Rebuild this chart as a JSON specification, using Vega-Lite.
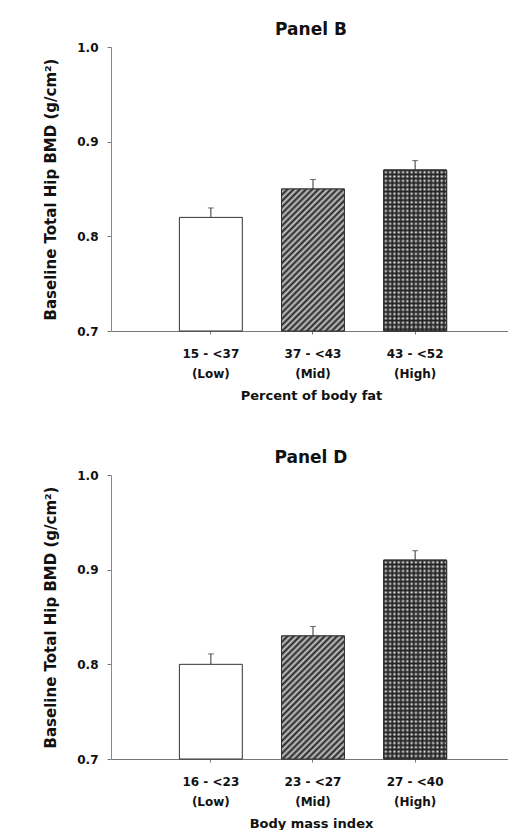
{
  "$schema": "https://vega.github.io/schema/vega-lite/v6.json",
  "background": "white",
  "padding": {"left": 43, "top": 21, "right": 0, "bottom": 0},
  "spacing": 47,
  "config": {
    "font": "DejaVu Sans",
    "view": {"stroke": null},
    "axis": {
      "labelFont": "DejaVu Sans", "labelFontWeight": "bold", "labelFontSize": 12, "labelColor": "#111",
      "titleFont": "DejaVu Sans", "titleFontWeight": "bold", "titleFontSize": 13, "titleColor": "#111",
      "domainColor": "#888", "tickColor": "#777", "grid": false
    },
    "title": {"font": "DejaVu Sans", "fontSize": 17, "fontWeight": "bold", "color": "#111", "offset": 2}
  },
  "datasets": {
    "fat": [
      {"group": "15 - <37\n(Low)", "level": "Low", "bmd": 0.82, "upper": 0.83},
      {"group": "37 - <43\n(Mid)", "level": "Mid", "bmd": 0.85, "upper": 0.86},
      {"group": "43 - <52\n(High)", "level": "High", "bmd": 0.87, "upper": 0.88}
    ],
    "bmi": [
      {"group": "16 - <23\n(Low)", "level": "Low", "bmd": 0.80, "upper": 0.811},
      {"group": "23 - <27\n(Mid)", "level": "Mid", "bmd": 0.83, "upper": 0.84},
      {"group": "27 - <40\n(High)", "level": "High", "bmd": 0.91, "upper": 0.92}
    ]
  },
  "vconcat": [
    {
      "title": "Panel B",
      "width": 400, "height": 284,
      "data": {"name": "fat"},
      "encoding": {
        "x": {"field": "group", "type": "nominal", "sort": null,
          "scale": {"domain": ["15 - <37\n(Low)", "37 - <43\n(Mid)", "43 - <52\n(High)"], "paddingInner": 0.384, "paddingOuter": 0.65, "align": 0.515},
          "axis": {"title": "Percent of body fat", "labelAngle": 0, "labelExpr": "split(datum.label, '\\n')",
            "labelLineHeight": 20, "labelPadding": 14, "tickSize": 3, "titlePadding": 10, "domainColor": "#777"}}
      },
      "layer": [
        {"mark": {"type": "bar", "stroke": "#333", "strokeWidth": 1},
          "encoding": {
            "y": {"field": "bmd", "type": "quantitative",
              "scale": {"domain": [0.7, 1.0], "zero": false, "nice": false},
              "axis": {"title": "Baseline Total Hip BMD (g/cm²)", "values": [0.7, 0.8, 0.9, 1.0], "format": ".1f",
                "tickSize": 4, "labelPadding": 9, "titlePadding": 18, "titleFontSize": 15}},
            "y2": {"datum": 0.7},
            "fill": {"field": "level", "type": "nominal",
              "scale": {"domain": ["Low", "Mid", "High"], "range": ["#ffffff", "#6a6a6a", "#4a4a4a"]}, "legend": null}
          }},
        {"transform": [{"filter": "datum.level === 'Mid'"}],
          "mark": {"type": "bar", "stroke": "#333", "strokeWidth": 1, "fill": {"gradient": "linear", "x1": 0, "y1": 0, "x2": 0.808, "y2": 1.825, "stops": [
            {"offset":0,"color":"#222"},{"offset":0.01,"color":"#c8c8c8"},{"offset":0.02,"color":"#222"},{"offset":0.03,"color":"#c8c8c8"},{"offset":0.04,"color":"#222"},{"offset":0.05,"color":"#c8c8c8"},{"offset":0.06,"color":"#222"},{"offset":0.07,"color":"#c8c8c8"},{"offset":0.08,"color":"#222"},{"offset":0.09,"color":"#c8c8c8"},
            {"offset":0.1,"color":"#222"},{"offset":0.11,"color":"#c8c8c8"},{"offset":0.12,"color":"#222"},{"offset":0.13,"color":"#c8c8c8"},{"offset":0.14,"color":"#222"},{"offset":0.15,"color":"#c8c8c8"},{"offset":0.16,"color":"#222"},{"offset":0.17,"color":"#c8c8c8"},{"offset":0.18,"color":"#222"},{"offset":0.19,"color":"#c8c8c8"},
            {"offset":0.2,"color":"#222"},{"offset":0.21,"color":"#c8c8c8"},{"offset":0.22,"color":"#222"},{"offset":0.23,"color":"#c8c8c8"},{"offset":0.24,"color":"#222"},{"offset":0.25,"color":"#c8c8c8"},{"offset":0.26,"color":"#222"},{"offset":0.27,"color":"#c8c8c8"},{"offset":0.28,"color":"#222"},{"offset":0.29,"color":"#c8c8c8"},
            {"offset":0.3,"color":"#222"},{"offset":0.31,"color":"#c8c8c8"},{"offset":0.32,"color":"#222"},{"offset":0.33,"color":"#c8c8c8"},{"offset":0.34,"color":"#222"},{"offset":0.35,"color":"#c8c8c8"},{"offset":0.36,"color":"#222"},{"offset":0.37,"color":"#c8c8c8"},{"offset":0.38,"color":"#222"},{"offset":0.39,"color":"#c8c8c8"},
            {"offset":0.4,"color":"#222"},{"offset":0.41,"color":"#c8c8c8"},{"offset":0.42,"color":"#222"},{"offset":0.43,"color":"#c8c8c8"},{"offset":0.44,"color":"#222"},{"offset":0.45,"color":"#c8c8c8"},{"offset":0.46,"color":"#222"},{"offset":0.47,"color":"#c8c8c8"},{"offset":0.48,"color":"#222"},{"offset":0.49,"color":"#c8c8c8"},
            {"offset":0.5,"color":"#222"},{"offset":0.51,"color":"#c8c8c8"},{"offset":0.52,"color":"#222"},{"offset":0.53,"color":"#c8c8c8"},{"offset":0.54,"color":"#222"},{"offset":0.55,"color":"#c8c8c8"},{"offset":0.56,"color":"#222"},{"offset":0.57,"color":"#c8c8c8"},{"offset":0.58,"color":"#222"},{"offset":0.59,"color":"#c8c8c8"},
            {"offset":0.6,"color":"#222"},{"offset":0.61,"color":"#c8c8c8"},{"offset":0.62,"color":"#222"},{"offset":0.63,"color":"#c8c8c8"},{"offset":0.64,"color":"#222"},{"offset":0.65,"color":"#c8c8c8"},{"offset":0.66,"color":"#222"},{"offset":0.67,"color":"#c8c8c8"}
          ]}},
          "encoding": {"y": {"field": "bmd", "type": "quantitative"}, "y2": {"datum": 0.7}}},
        {"transform": [{"filter": "datum.level === 'High'"}],
          "mark": {"type": "bar", "stroke": "#333", "strokeWidth": 1, "fill": {"gradient": "linear", "x1": 0, "y1": 0, "x2": 0, "y2": 1.336, "stops": [
            {"offset":0,"color":"#222"},{"offset":0.01,"color":"#eee"},{"offset":0.02,"color":"#222"},{"offset":0.03,"color":"#eee"},{"offset":0.04,"color":"#222"},{"offset":0.05,"color":"#eee"},{"offset":0.06,"color":"#222"},{"offset":0.07,"color":"#eee"},{"offset":0.08,"color":"#222"},{"offset":0.09,"color":"#eee"},
            {"offset":0.1,"color":"#222"},{"offset":0.11,"color":"#eee"},{"offset":0.12,"color":"#222"},{"offset":0.13,"color":"#eee"},{"offset":0.14,"color":"#222"},{"offset":0.15,"color":"#eee"},{"offset":0.16,"color":"#222"},{"offset":0.17,"color":"#eee"},{"offset":0.18,"color":"#222"},{"offset":0.19,"color":"#eee"},
            {"offset":0.2,"color":"#222"},{"offset":0.21,"color":"#eee"},{"offset":0.22,"color":"#222"},{"offset":0.23,"color":"#eee"},{"offset":0.24,"color":"#222"},{"offset":0.25,"color":"#eee"},{"offset":0.26,"color":"#222"},{"offset":0.27,"color":"#eee"},{"offset":0.28,"color":"#222"},{"offset":0.29,"color":"#eee"},
            {"offset":0.3,"color":"#222"},{"offset":0.31,"color":"#eee"},{"offset":0.32,"color":"#222"},{"offset":0.33,"color":"#eee"},{"offset":0.34,"color":"#222"},{"offset":0.35,"color":"#eee"},{"offset":0.36,"color":"#222"},{"offset":0.37,"color":"#eee"},{"offset":0.38,"color":"#222"},{"offset":0.39,"color":"#eee"},
            {"offset":0.4,"color":"#222"},{"offset":0.41,"color":"#eee"},{"offset":0.42,"color":"#222"},{"offset":0.43,"color":"#eee"},{"offset":0.44,"color":"#222"},{"offset":0.45,"color":"#eee"},{"offset":0.46,"color":"#222"},{"offset":0.47,"color":"#eee"},{"offset":0.48,"color":"#222"},{"offset":0.49,"color":"#eee"},
            {"offset":0.5,"color":"#222"},{"offset":0.51,"color":"#eee"},{"offset":0.52,"color":"#222"},{"offset":0.53,"color":"#eee"},{"offset":0.54,"color":"#222"},{"offset":0.55,"color":"#eee"},{"offset":0.56,"color":"#222"},{"offset":0.57,"color":"#eee"},{"offset":0.58,"color":"#222"},{"offset":0.59,"color":"#eee"},
            {"offset":0.6,"color":"#222"},{"offset":0.61,"color":"#eee"},{"offset":0.62,"color":"#222"},{"offset":0.63,"color":"#eee"},{"offset":0.64,"color":"#222"},{"offset":0.65,"color":"#eee"},{"offset":0.66,"color":"#222"},{"offset":0.67,"color":"#eee"},{"offset":0.68,"color":"#222"},{"offset":0.69,"color":"#eee"},
            {"offset":0.7,"color":"#222"},{"offset":0.71,"color":"#eee"},{"offset":0.72,"color":"#222"},{"offset":0.73,"color":"#eee"},{"offset":0.74,"color":"#222"},{"offset":0.75,"color":"#eee"}
          ]}},
          "encoding": {"y": {"field": "bmd", "type": "quantitative"}, "y2": {"datum": 0.7}}},
        {"transform": [{"filter": "datum.level === 'High'"}],
          "mark": {"type": "bar", "stroke": "#333", "strokeWidth": 1, "fill": {"gradient": "linear", "x1": 0, "y1": 0, "x2": 3.418, "y2": 0, "stops": [
            {"offset":0,"color":"#222"},{"offset":0.01,"color":"rgba(34,34,34,0)"},{"offset":0.02,"color":"#222"},{"offset":0.03,"color":"rgba(34,34,34,0)"},{"offset":0.04,"color":"#222"},{"offset":0.05,"color":"rgba(34,34,34,0)"},{"offset":0.06,"color":"#222"},{"offset":0.07,"color":"rgba(34,34,34,0)"},{"offset":0.08,"color":"#222"},{"offset":0.09,"color":"rgba(34,34,34,0)"},
            {"offset":0.1,"color":"#222"},{"offset":0.11,"color":"rgba(34,34,34,0)"},{"offset":0.12,"color":"#222"},{"offset":0.13,"color":"rgba(34,34,34,0)"},{"offset":0.14,"color":"#222"},{"offset":0.15,"color":"rgba(34,34,34,0)"},{"offset":0.16,"color":"#222"},{"offset":0.17,"color":"rgba(34,34,34,0)"},{"offset":0.18,"color":"#222"},{"offset":0.19,"color":"rgba(34,34,34,0)"},
            {"offset":0.2,"color":"#222"},{"offset":0.21,"color":"rgba(34,34,34,0)"},{"offset":0.22,"color":"#222"},{"offset":0.23,"color":"rgba(34,34,34,0)"},{"offset":0.24,"color":"#222"},{"offset":0.25,"color":"rgba(34,34,34,0)"},{"offset":0.26,"color":"#222"},{"offset":0.27,"color":"rgba(34,34,34,0)"},{"offset":0.28,"color":"#222"},{"offset":0.29,"color":"rgba(34,34,34,0)"},
            {"offset":0.3,"color":"#222"}
          ]}},
          "encoding": {"y": {"field": "bmd", "type": "quantitative"}, "y2": {"datum": 0.7}}},
        {"mark": {"type": "rule", "color": "#333"},
          "encoding": {"y": {"field": "bmd", "type": "quantitative"}, "y2": {"field": "upper"}}},
        {"mark": {"type": "tick", "orient": "horizontal", "size": 6, "thickness": 1, "color": "#333"},
          "encoding": {"y": {"field": "upper", "type": "quantitative"}}}
      ]
    },
    {
      "title": "Panel D",
      "width": 400, "height": 284,
      "data": {"name": "bmi"},
      "encoding": {
        "x": {"field": "group", "type": "nominal", "sort": null,
          "scale": {"domain": ["16 - <23\n(Low)", "23 - <27\n(Mid)", "27 - <40\n(High)"], "paddingInner": 0.384, "paddingOuter": 0.65, "align": 0.515},
          "axis": {"title": "Body mass index", "labelAngle": 0, "labelExpr": "split(datum.label, '\\n')",
            "labelLineHeight": 20, "labelPadding": 14, "tickSize": 3, "titlePadding": 10, "domainColor": "#777"}}
      },
      "layer": [
        {"mark": {"type": "bar", "stroke": "#333", "strokeWidth": 1},
          "encoding": {
            "y": {"field": "bmd", "type": "quantitative",
              "scale": {"domain": [0.7, 1.0], "zero": false, "nice": false},
              "axis": {"title": "Baseline Total Hip BMD (g/cm²)", "values": [0.7, 0.8, 0.9, 1.0], "format": ".1f",
                "tickSize": 4, "labelPadding": 9, "titlePadding": 18, "titleFontSize": 15}},
            "y2": {"datum": 0.7},
            "fill": {"field": "level", "type": "nominal",
              "scale": {"domain": ["Low", "Mid", "High"], "range": ["#ffffff", "#6a6a6a", "#4a4a4a"]}, "legend": null}
          }},
        {"transform": [{"filter": "datum.level === 'Mid'"}],
          "mark": {"type": "bar", "stroke": "#333", "strokeWidth": 1, "fill": {"gradient": "linear", "x1": 0, "y1": 0, "x2": 1.02, "y2": 1.997, "stops": [
            {"offset":0,"color":"#222"},{"offset":0.01,"color":"#c8c8c8"},{"offset":0.02,"color":"#222"},{"offset":0.03,"color":"#c8c8c8"},{"offset":0.04,"color":"#222"},{"offset":0.05,"color":"#c8c8c8"},{"offset":0.06,"color":"#222"},{"offset":0.07,"color":"#c8c8c8"},{"offset":0.08,"color":"#222"},{"offset":0.09,"color":"#c8c8c8"},
            {"offset":0.1,"color":"#222"},{"offset":0.11,"color":"#c8c8c8"},{"offset":0.12,"color":"#222"},{"offset":0.13,"color":"#c8c8c8"},{"offset":0.14,"color":"#222"},{"offset":0.15,"color":"#c8c8c8"},{"offset":0.16,"color":"#222"},{"offset":0.17,"color":"#c8c8c8"},{"offset":0.18,"color":"#222"},{"offset":0.19,"color":"#c8c8c8"},
            {"offset":0.2,"color":"#222"},{"offset":0.21,"color":"#c8c8c8"},{"offset":0.22,"color":"#222"},{"offset":0.23,"color":"#c8c8c8"},{"offset":0.24,"color":"#222"},{"offset":0.25,"color":"#c8c8c8"},{"offset":0.26,"color":"#222"},{"offset":0.27,"color":"#c8c8c8"},{"offset":0.28,"color":"#222"},{"offset":0.29,"color":"#c8c8c8"},
            {"offset":0.3,"color":"#222"},{"offset":0.31,"color":"#c8c8c8"},{"offset":0.32,"color":"#222"},{"offset":0.33,"color":"#c8c8c8"},{"offset":0.34,"color":"#222"},{"offset":0.35,"color":"#c8c8c8"},{"offset":0.36,"color":"#222"},{"offset":0.37,"color":"#c8c8c8"},{"offset":0.38,"color":"#222"},{"offset":0.39,"color":"#c8c8c8"},
            {"offset":0.4,"color":"#222"},{"offset":0.41,"color":"#c8c8c8"},{"offset":0.42,"color":"#222"},{"offset":0.43,"color":"#c8c8c8"},{"offset":0.44,"color":"#222"},{"offset":0.45,"color":"#c8c8c8"},{"offset":0.46,"color":"#222"},{"offset":0.47,"color":"#c8c8c8"},{"offset":0.48,"color":"#222"},{"offset":0.49,"color":"#c8c8c8"},
            {"offset":0.5,"color":"#222"},{"offset":0.51,"color":"#c8c8c8"},{"offset":0.52,"color":"#222"},{"offset":0.53,"color":"#c8c8c8"},{"offset":0.54,"color":"#222"},{"offset":0.55,"color":"#c8c8c8"},{"offset":0.56,"color":"#222"},{"offset":0.57,"color":"#c8c8c8"},{"offset":0.58,"color":"#222"},{"offset":0.59,"color":"#c8c8c8"},
            {"offset":0.6,"color":"#222"},{"offset":0.61,"color":"#c8c8c8"}
          ]}},
          "encoding": {"y": {"field": "bmd", "type": "quantitative"}, "y2": {"datum": 0.7}}},
        {"transform": [{"filter": "datum.level === 'High'"}],
          "mark": {"type": "bar", "stroke": "#333", "strokeWidth": 1, "fill": {"gradient": "linear", "x1": 0, "y1": 0, "x2": 0, "y2": 1.082, "stops": [
            {"offset":0,"color":"#222"},{"offset":0.01,"color":"#eee"},{"offset":0.02,"color":"#222"},{"offset":0.03,"color":"#eee"},{"offset":0.04,"color":"#222"},{"offset":0.05,"color":"#eee"},{"offset":0.06,"color":"#222"},{"offset":0.07,"color":"#eee"},{"offset":0.08,"color":"#222"},{"offset":0.09,"color":"#eee"},
            {"offset":0.1,"color":"#222"},{"offset":0.11,"color":"#eee"},{"offset":0.12,"color":"#222"},{"offset":0.13,"color":"#eee"},{"offset":0.14,"color":"#222"},{"offset":0.15,"color":"#eee"},{"offset":0.16,"color":"#222"},{"offset":0.17,"color":"#eee"},{"offset":0.18,"color":"#222"},{"offset":0.19,"color":"#eee"},
            {"offset":0.2,"color":"#222"},{"offset":0.21,"color":"#eee"},{"offset":0.22,"color":"#222"},{"offset":0.23,"color":"#eee"},{"offset":0.24,"color":"#222"},{"offset":0.25,"color":"#eee"},{"offset":0.26,"color":"#222"},{"offset":0.27,"color":"#eee"},{"offset":0.28,"color":"#222"},{"offset":0.29,"color":"#eee"},
            {"offset":0.3,"color":"#222"},{"offset":0.31,"color":"#eee"},{"offset":0.32,"color":"#222"},{"offset":0.33,"color":"#eee"},{"offset":0.34,"color":"#222"},{"offset":0.35,"color":"#eee"},{"offset":0.36,"color":"#222"},{"offset":0.37,"color":"#eee"},{"offset":0.38,"color":"#222"},{"offset":0.39,"color":"#eee"},
            {"offset":0.4,"color":"#222"},{"offset":0.41,"color":"#eee"},{"offset":0.42,"color":"#222"},{"offset":0.43,"color":"#eee"},{"offset":0.44,"color":"#222"},{"offset":0.45,"color":"#eee"},{"offset":0.46,"color":"#222"},{"offset":0.47,"color":"#eee"},{"offset":0.48,"color":"#222"},{"offset":0.49,"color":"#eee"},
            {"offset":0.5,"color":"#222"},{"offset":0.51,"color":"#eee"},{"offset":0.52,"color":"#222"},{"offset":0.53,"color":"#eee"},{"offset":0.54,"color":"#222"},{"offset":0.55,"color":"#eee"},{"offset":0.56,"color":"#222"},{"offset":0.57,"color":"#eee"},{"offset":0.58,"color":"#222"},{"offset":0.59,"color":"#eee"},
            {"offset":0.6,"color":"#222"},{"offset":0.61,"color":"#eee"},{"offset":0.62,"color":"#222"},{"offset":0.63,"color":"#eee"},{"offset":0.64,"color":"#222"},{"offset":0.65,"color":"#eee"},{"offset":0.66,"color":"#222"},{"offset":0.67,"color":"#eee"},{"offset":0.68,"color":"#222"},{"offset":0.69,"color":"#eee"},
            {"offset":0.7,"color":"#222"},{"offset":0.71,"color":"#eee"},{"offset":0.72,"color":"#222"},{"offset":0.73,"color":"#eee"},{"offset":0.74,"color":"#222"},{"offset":0.75,"color":"#eee"},{"offset":0.76,"color":"#222"},{"offset":0.77,"color":"#eee"},{"offset":0.78,"color":"#222"},{"offset":0.79,"color":"#eee"},
            {"offset":0.8,"color":"#222"},{"offset":0.81,"color":"#eee"},{"offset":0.82,"color":"#222"},{"offset":0.83,"color":"#eee"},{"offset":0.84,"color":"#222"},{"offset":0.85,"color":"#eee"},{"offset":0.86,"color":"#222"},{"offset":0.87,"color":"#eee"},{"offset":0.88,"color":"#222"},{"offset":0.89,"color":"#eee"},
            {"offset":0.9,"color":"#222"},{"offset":0.91,"color":"#eee"},{"offset":0.92,"color":"#222"},{"offset":0.93,"color":"#eee"}
          ]}},
          "encoding": {"y": {"field": "bmd", "type": "quantitative"}, "y2": {"datum": 0.7}}},
        {"transform": [{"filter": "datum.level === 'High'"}],
          "mark": {"type": "bar", "stroke": "#333", "strokeWidth": 1, "fill": {"gradient": "linear", "x1": 0, "y1": 0, "x2": 3.418, "y2": 0, "stops": [
            {"offset":0,"color":"#222"},{"offset":0.01,"color":"rgba(34,34,34,0)"},{"offset":0.02,"color":"#222"},{"offset":0.03,"color":"rgba(34,34,34,0)"},{"offset":0.04,"color":"#222"},{"offset":0.05,"color":"rgba(34,34,34,0)"},{"offset":0.06,"color":"#222"},{"offset":0.07,"color":"rgba(34,34,34,0)"},{"offset":0.08,"color":"#222"},{"offset":0.09,"color":"rgba(34,34,34,0)"},
            {"offset":0.1,"color":"#222"},{"offset":0.11,"color":"rgba(34,34,34,0)"},{"offset":0.12,"color":"#222"},{"offset":0.13,"color":"rgba(34,34,34,0)"},{"offset":0.14,"color":"#222"},{"offset":0.15,"color":"rgba(34,34,34,0)"},{"offset":0.16,"color":"#222"},{"offset":0.17,"color":"rgba(34,34,34,0)"},{"offset":0.18,"color":"#222"},{"offset":0.19,"color":"rgba(34,34,34,0)"},
            {"offset":0.2,"color":"#222"},{"offset":0.21,"color":"rgba(34,34,34,0)"},{"offset":0.22,"color":"#222"},{"offset":0.23,"color":"rgba(34,34,34,0)"},{"offset":0.24,"color":"#222"},{"offset":0.25,"color":"rgba(34,34,34,0)"},{"offset":0.26,"color":"#222"},{"offset":0.27,"color":"rgba(34,34,34,0)"},{"offset":0.28,"color":"#222"},{"offset":0.29,"color":"rgba(34,34,34,0)"},
            {"offset":0.3,"color":"#222"}
          ]}},
          "encoding": {"y": {"field": "bmd", "type": "quantitative"}, "y2": {"datum": 0.7}}},
        {"mark": {"type": "rule", "color": "#333"},
          "encoding": {"y": {"field": "bmd", "type": "quantitative"}, "y2": {"field": "upper"}}},
        {"mark": {"type": "tick", "orient": "horizontal", "size": 6, "thickness": 1, "color": "#333"},
          "encoding": {"y": {"field": "upper", "type": "quantitative"}}}
      ]
    }
  ]
}
